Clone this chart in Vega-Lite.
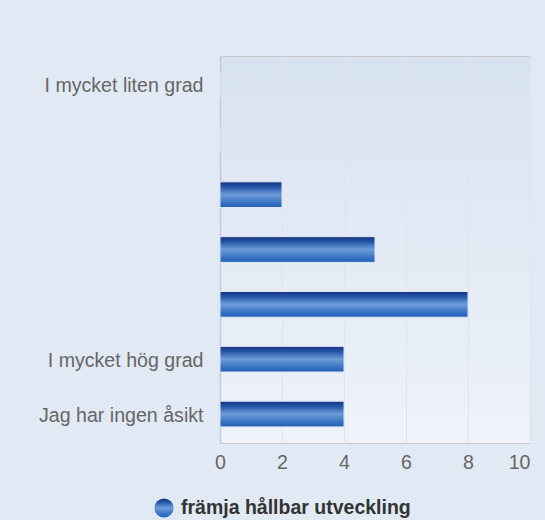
{
  "$schema": "https://vega.github.io/schema/vega-lite/v6.json",
  "width": 310,
  "height": 387,
  "autosize": "none",
  "padding": {"left": 220, "top": 56, "right": 15, "bottom": 77},
  "background": "#e1e9f4",
  "data": {
    "values": [
      {"kategori": "I mycket liten grad", "antal": 0, "serie": "främja hållbar utveckling"},
      {"kategori": " ", "antal": 0, "serie": "främja hållbar utveckling"},
      {"kategori": "  ", "antal": 2, "serie": "främja hållbar utveckling"},
      {"kategori": "   ", "antal": 5, "serie": "främja hållbar utveckling"},
      {"kategori": "    ", "antal": 8, "serie": "främja hållbar utveckling"},
      {"kategori": "I mycket hög grad", "antal": 4, "serie": "främja hållbar utveckling"},
      {"kategori": "Jag har ingen åsikt", "antal": 4, "serie": "främja hållbar utveckling"}
    ]
  },
  "mark": {"type": "bar", "strokeWidth": 1, "fill": {"gradient": "linear", "x1": 0, "y1": 0, "x2": 0, "y2": 1, "stops": [{"offset": 0, "color": "#17307f"}, {"offset": 0.2, "color": "#2456a8"}, {"offset": 0.5, "color": "#6d9cd9"}, {"offset": 0.8, "color": "#3a74c4"}, {"offset": 1, "color": "#1f5fb5"}]}},
  "encoding": {
    "y": {
      "field": "kategori",
      "type": "nominal",
      "sort": null,
      "scale": {"paddingInner": 0.532, "paddingOuter": 0.294},
      "axis": {"title": null, "ticks": false, "domain": true, "domainColor": "#c3cadb", "domainWidth": 1.5, "labelFont": "Liberation Sans", "labelFontSize": 19.6, "labelColor": "#666666", "labelPadding": 17, "labelLimit": 300, "labelOffset": 1.5}
    },
    "x": {
      "field": "antal",
      "type": "quantitative",
      "scale": {"domain": [0, 10], "nice": false},
      "axis": {"title": null, "values": [0, 2, 4, 6, 8, 10], "ticks": false, "domain": false, "grid": true, "gridColor": "#dfe3ea", "labelFont": "Liberation Sans", "labelFontSize": 19.6, "labelColor": "#666666", "labelPadding": 10, "labelFlush": false, "labelAlign": {"expr": "datum.value == 10 ? 'right' : 'center'"}}
    },
    "stroke": {
      "field": "serie",
      "type": "nominal",
      "scale": {"range": ["#dfe7f4"]},
      "legend": {"title": null, "orient": "none", "legendX": -66, "legendY": 442, "symbolType": "circle", "symbolSize": 370, "symbolStrokeWidth": 0, "symbolFillColor": {"gradient": "linear", "x1": 0, "y1": 0, "x2": 1, "y2": 0, "stops": [{"offset": 0, "color": "#7aa6e0"}, {"offset": 0.5, "color": "#2f66bd"}, {"offset": 1, "color": "#17307f"}]}, "labelFont": "Liberation Sans", "labelFontSize": 19.5, "labelFontWeight": "bold", "labelColor": "#333333", "labelOffset": 7, "labelLimit": 400}
    }
  },
  "config": {
    "view": {"stroke": "#c8c8c8", "strokeWidth": 1, "fill": {"gradient": "linear", "x1": 0, "y1": 0, "x2": 0, "y2": 1, "stops": [{"offset": 0, "color": "#d7e2f1"}, {"offset": 1, "color": "#eff3f9"}]}}
  }
}
